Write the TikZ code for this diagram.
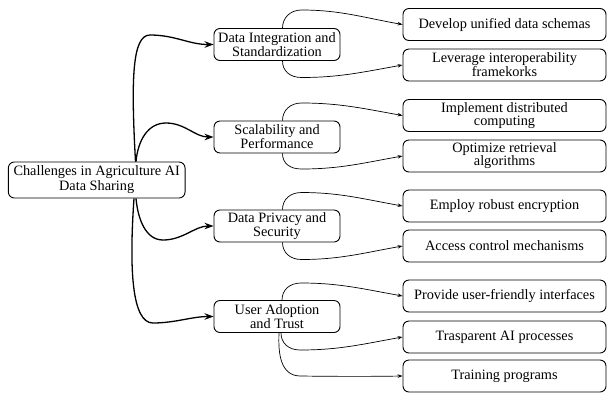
\documentclass[tikz,border=0pt]{standalone}
\usepackage{fontspec}
\setmainfont{Liberation Serif}
\usetikzlibrary{arrows.meta}
\newcommand\rootfont{\fontsize{14.3}{15}\selectfont}
\newcommand\midfont{\fontsize{14.3}{14}\selectfont}
\newcommand\leaffont{\fontsize{14.3}{13}\selectfont}
\tikzset{
  box/.style={draw, rounded corners=6pt, line width=0.9pt, align=center, inner sep=1pt, fill=white},
  rootbox/.style={box, minimum width=176.7pt, minimum height=36pt, font=\rootfont},
  midbox/.style={box, minimum width=126pt, minimum height=32pt, font=\midfont},
  leafbox/.style={box, minimum width=203pt, minimum height=32pt, font=\leaffont},
  bigarrow/.style={line width=1.3pt, -{Stealth[length=9pt,width=6.5pt]}},
  smallarrow/.style={line width=0.7pt, -{Stealth[length=5pt,width=3.5pt]}}
}
\begin{document}
\begin{tikzpicture}[x=1pt,y=1pt]
\useasboundingbox (0,0) rectangle (607,-392);

% nodes
\node[rootbox] (root) at (96.7,-180) {Challenges in Agriculture AI\\Data Sharing};
\node[midbox] (di) at (277,-44.5) {Data Integration and\\Standardization};
\node[midbox] (sp) at (277,-137) {Scalability and\\Performance};
\node[midbox] (dp) at (277,-226) {Data Privacy and\\Security};
\node[midbox] (ua) at (277,-316.5) {User Adoption\\and Trust};

\node[leafbox] (l1) at (504.5,-24.5) {Develop unified data schemas};
\node[leafbox] (l2) at (504.5,-65) {Leverage interoperability\\framekorks};
\node[leafbox] (l3) at (504.5,-115.5) {Implement distributed\\computing};
\node[leafbox] (l4) at (504.5,-156) {Optimize retrieval\\algorithms};
\node[leafbox] (l5) at (504.5,-206) {Employ robust encryption};
\node[leafbox] (l6) at (504.5,-246) {Access control mechanisms};
\node[leafbox] (l7) at (504.5,-296) {Provide user-friendly interfaces};
\node[leafbox] (l8) at (504.5,-337) {Trasparent AI processes};
\node[leafbox] (l9) at (504.5,-376) {Training programs};

% root -> level 1
\draw[bigarrow] ([xshift=38.8pt]root.north) .. controls (131,-80) and (132,-35) .. (150,-35)
  .. controls (175,-35) and (189,-44.5) .. (di.west);
\draw[bigarrow] ([xshift=39.3pt]root.north) .. controls (138,-140) and (148,-123) .. (166,-123)
  .. controls (185,-123) and (195,-137) .. (sp.west);
\draw[bigarrow] ([xshift=39.3pt]root.south) .. controls (138,-220) and (146,-240) .. (163,-240)
  .. controls (183,-240) and (195,-226) .. (dp.west);
\draw[bigarrow] ([xshift=37.3pt]root.south) .. controls (129,-270) and (132,-323) .. (153,-323)
  .. controls (175,-323) and (192,-316.5) .. (ua.west);

% level 1 -> level 2
\draw[smallarrow] ([xshift=5.5pt]di.north) .. controls (282.5,-18) and (290,-10) .. (301.5,-10)
  .. controls (340,-10) and (363.6,-17.6) .. (l1.west);
\draw[smallarrow] ([xshift=5.5pt]di.south) .. controls (282.5,-71) and (290,-77.5) .. (301.5,-77.5)
  .. controls (340,-77.5) and (363.6,-71.9) .. (l2.west);
\draw[smallarrow] ([xshift=5.5pt]sp.north) .. controls (282.5,-110.5) and (290,-103) .. (301.5,-103)
  .. controls (340,-103) and (363.6,-108.6) .. (l3.west);
\draw[smallarrow] ([xshift=5.5pt]sp.south) .. controls (282.5,-163.5) and (290,-169) .. (301.5,-169)
  .. controls (340,-169) and (363.6,-162.9) .. (l4.west);
\draw[smallarrow] ([xshift=5.5pt]dp.north) .. controls (282.5,-199.5) and (290,-192.5) .. (301.5,-192.5)
  .. controls (340,-192.5) and (363.6,-199.1) .. (l5.west);
\draw[smallarrow] ([xshift=5.5pt]dp.south) .. controls (282.5,-252.5) and (290,-259.5) .. (301.5,-259.5)
  .. controls (340,-259.5) and (363.6,-252.9) .. (l6.west);
\draw[smallarrow] ([xshift=5pt]ua.north) .. controls (282,-290) and (289.5,-283) .. (301,-283)
  .. controls (340,-283) and (363.6,-289.1) .. (l7.west);
\draw[smallarrow] ([xshift=4pt]ua.south) .. controls (281,-343) and (288.5,-350) .. (300,-350)
  .. controls (340,-350) and (363.6,-343.9) .. (l8.west);
\draw[smallarrow] ([xshift=2pt]ua.south) .. controls (278,-355) and (281,-375.5) .. (300,-376)
  .. controls (340,-376.5) and (370,-376.5) .. (l9.west);
\end{tikzpicture}
\end{document}
